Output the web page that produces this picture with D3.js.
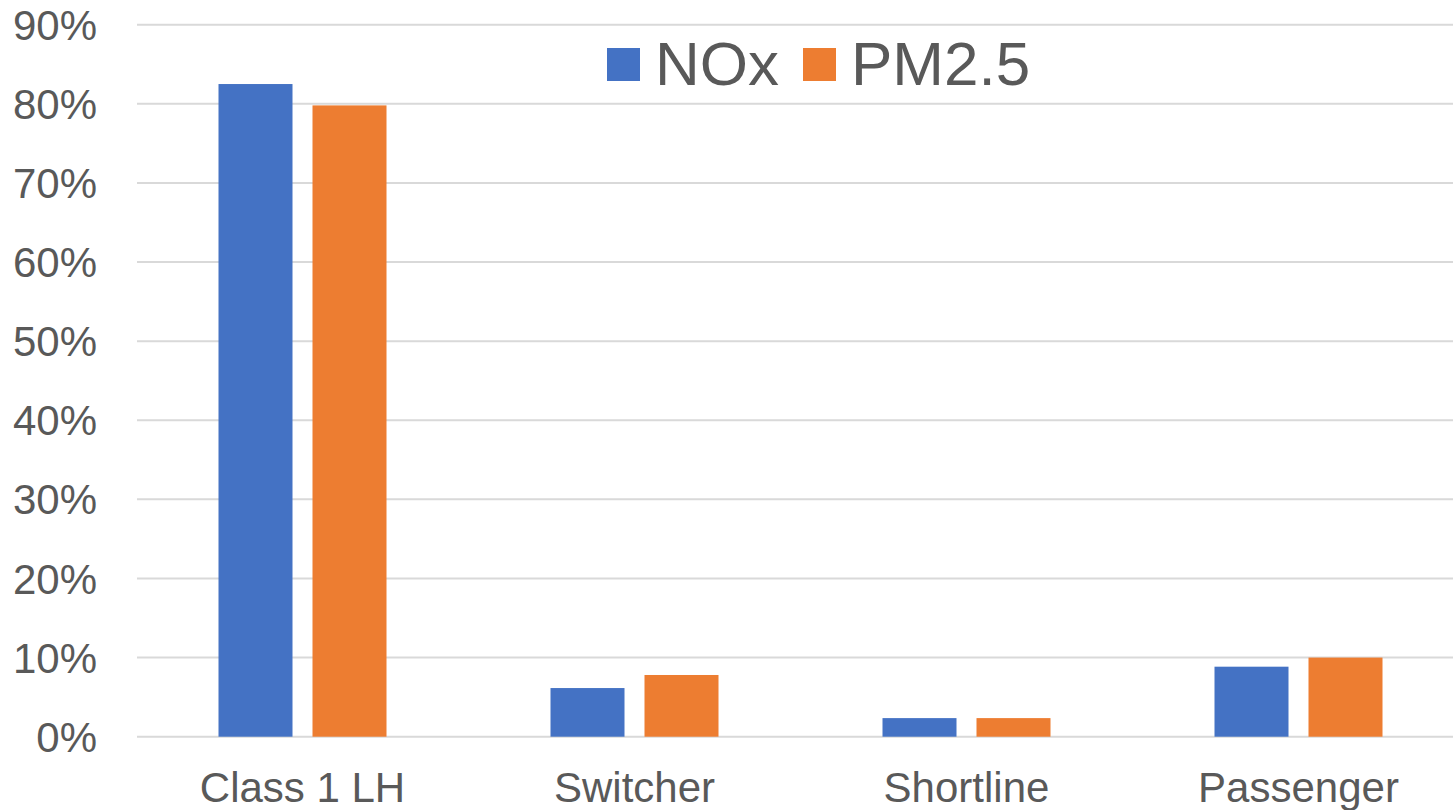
<!DOCTYPE html>
<head>
  <meta charset="utf-8">
  <title>NOx and PM2.5 share by rail category</title>
  <script src="https://d3js.org/d3.v7.min.js"></script>
  <style>
    body { margin: 0; background: #fff; }
    svg { font-family: "Liberation Sans", Arial, sans-serif; }
    .tick-label { font-size: 42px; fill: #595959; }
    .cat-label { font-size: 42px; fill: #595959; }
    .grid-line { stroke: #d9d9d9; stroke-width: 2px; }
    .legend-text { font-size: 62px; fill: #595959; }
  </style>
</head>
<body>
  <script>
    // data
    var categories = ["Class 1 LH", "Switcher", "Shortline", "Passenger"];
    var seriesNames = ["NOx", "PM2.5"];
    var noxValues = [82.5, 6.15, 2.35, 8.85];
    var pmValues = [79.8, 7.8, 2.35, 10.0];
    var yTicks = [0, 10, 20, 30, 40, 50, 60, 70, 80, 90];
    var colors = ["#4472C4", "#ED7D31"];

    var width = 1453, height = 810;

    var svg = d3.select("body").append("svg")
      .attr("width", width)
      .attr("height", height);

    var y = d3.scaleLinear()
      .domain([0, 90])
      .range([736.7, 24.7]);

    var x0 = d3.scaleBand()
      .domain(categories)
      .range([136.5, 1464.5])
      .padding(0);

    var groupW = 168;
    var x1 = d3.scaleBand()
      .domain(seriesNames)
      .range([0, groupW])
      .paddingInner(0.2128)
      .paddingOuter(0);

    // gridlines
    svg.append("g").selectAll("line")
      .data(yTicks)
      .enter().append("line")
      .attr("class", "grid-line")
      .attr("x1", 137)
      .attr("x2", width)
      .attr("y1", function(d) { return y(d); })
      .attr("y2", function(d) { return y(d); });

    // y tick labels
    svg.append("g").selectAll("text")
      .data(yTicks)
      .enter().append("text")
      .attr("class", "tick-label")
      .attr("x", 97)
      .attr("y", function(d) { return y(d); })
      .attr("dy", "0.36em")
      .attr("text-anchor", "end")
      .text(function(d) { return d + "%"; });

    var rows = categories.map(function(c, i) {
      return { cat: c, vals: [noxValues[i], pmValues[i]] };
    });

    var groups = svg.append("g").selectAll("g")
      .data(rows)
      .enter().append("g")
      .attr("transform", function(d) {
        return "translate(" + (x0(d.cat) + (x0.bandwidth() - groupW) / 2) + ",0)";
      });

    groups.selectAll("rect")
      .data(function(d) { return d.vals.map(function(v, j) { return { s: seriesNames[j], v: v, j: j }; }); })
      .enter().append("rect")
      .attr("x", function(d) { return x1(d.s); })
      .attr("width", x1.bandwidth())
      .attr("y", function(d) { return y(d.v); })
      .attr("height", function(d) { return y(0) - y(d.v); })
      .attr("fill", function(d) { return colors[d.j]; });

    // category labels
    svg.append("g").selectAll("text")
      .data(categories)
      .enter().append("text")
      .attr("class", "cat-label")
      .attr("x", function(d) { return x0(d) + x0.bandwidth() / 2; })
      .attr("y", 802)
      .attr("text-anchor", "middle")
      .text(function(d) { return d; });

    // legend
    var legendItems = [
      { label: "NOx", sx: 607, tx: 655 },
      { label: "PM2.5", sx: 803, tx: 851 }
    ];
    var legend = svg.append("g");
    legend.selectAll("rect")
      .data(legendItems)
      .enter().append("rect")
      .attr("x", function(d) { return d.sx; })
      .attr("y", 48)
      .attr("width", 33)
      .attr("height", 33)
      .attr("fill", function(d, i) { return colors[i]; });
    legend.selectAll("text")
      .data(legendItems)
      .enter().append("text")
      .attr("class", "legend-text")
      .attr("x", function(d) { return d.tx; })
      .attr("y", 85)
      .text(function(d) { return d.label; });
  </script>
</body>
